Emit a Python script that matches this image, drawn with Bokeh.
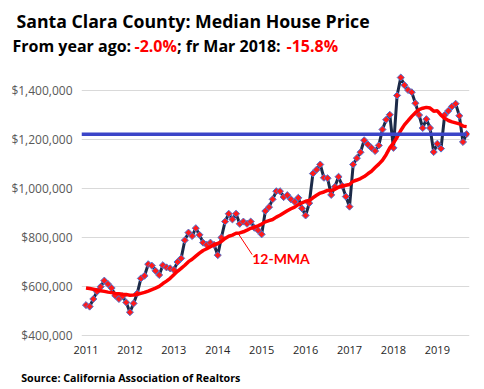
import numpy as np
import pandas as pd
from bokeh.plotting import figure
from bokeh.layouts import column, row
from bokeh.models import Label, FixedTicker, NumeralTickFormatter, Range1d
from bokeh.embed import file_html
from bokeh.resources import INLINE

# ---- data (monthly, Jan 2011 .. Sep 2019) ----
years = ["2011", "2012", "2013", "2014", "2015", "2016", "2017", "2018", "2019"]
price = [
    524000, 518000, 549000, 579000, 599000, 624000, 610000, 594000, 563000, 549000, 560000, 535000,   # 2011
    495000, 531000, 572000, 633000, 644000, 691000, 685000, 664000, 647000, 687000, 678000, 674000,   # 2012
    668000, 700000, 715000, 789000, 820000, 806000, 838000, 811000, 779000, 770000, 779000, 770000,   # 2013
    728000, 800000, 865000, 897000, 874000, 897000, 856000, 865000, 856000, 865000, 840000, 830000,   # 2014
    813000, 908000, 924000, 956000, 989000, 989000, 965000, 973000, 956000, 946000, 962000, 919000,   # 2015
    890000, 940000, 1061000, 1077000, 1098000, 1044000, 1042000, 974000, 1007000, 1048000, 1011000, 967000,  # 2016
    926000, 1098000, 1124000, 1148000, 1197000, 1180000, 1166000, 1153000, 1176000, 1241000, 1281000, 1301000,  # 2017
    1166000, 1380000, 1453000, 1422000, 1402000, 1393000, 1348000, 1300000, 1247000, 1283000, 1247000, 1149000,  # 2018
    1183000, 1163000, 1300000, 1317000, 1335000, 1346000, 1297000, 1190000, 1222000,  # 2019
]
# 12-MMA for Jan-Nov 2011 (depends on 2010 data)
mma_2011_head = [594000, 592000, 589000, 586000, 583000, 580000, 577000, 575000, 572000, 570000, 568000]

title_text = "Santa Clara County: Median House Price"
sub_parts = [("From year ago: ", "black"), ("-2.0%", "#ff0000"),
             ("; fr Mar 2018: ", "black"), ("-15.8%", "#ff0000")]
source_text = "Source: California Association of Realtors"
mma_label = "12-MMA"
y_ticks = [400000, 600000, 800000, 1000000, 1200000, 1400000]

x = np.arange(len(price))
s = pd.Series(price, dtype=float)
mma = s.rolling(12).mean().to_numpy()
mma[:len(mma_2011_head)] = mma_2011_head
latest = price[-1]

FONT = "Open Sans"
W = 484


def text_panel(h):
    f = figure(width=W, height=h, x_range=Range1d(0, W), y_range=Range1d(h, 0),
               x_axis_type=None, y_axis_type=None, output_backend="svg",
               toolbar_location=None, min_border=0)
    f.outline_line_color = None
    f.grid.visible = False
    return f


# ---- header ----
top = text_panel(60)
top.add_layout(Label(x=16, y=20.7, text=title_text, text_font=FONT, text_font_style="bold",
                     text_font_size="17.7px", text_color="black", text_baseline="alphabetic"))
sub_x = [12, 134, 176.5, 286]
for (t, c), sx in zip(sub_parts, sub_x):
    top.add_layout(Label(x=sx, y=45, text=t, text_font=FONT, text_font_style="bold",
                         text_font_size="16px", text_color=c, text_baseline="alphabetic"))

# ---- main chart ----
p = figure(width=W, height=308,
           x_range=Range1d(-1.23, 104.78), y_range=Range1d(395918, 1514418),
           output_backend="svg", toolbar_location=None,
           min_border_left=81, min_border_right=15, min_border_top=2, min_border_bottom=32)
p.outline_line_color = None
p.xgrid.visible = False
p.ygrid.grid_line_color = "#d9d9d9"
p.ygrid.grid_line_width = 1

p.yaxis.ticker = FixedTicker(ticks=y_ticks)
p.yaxis.formatter = NumeralTickFormatter(format="$0,0")
p.yaxis.axis_line_color = None
p.yaxis.major_tick_line_color = None
p.yaxis.minor_tick_line_color = None
p.yaxis.major_tick_out = 0
p.yaxis.major_label_standoff = 9
p.yaxis.major_label_text_font = "Open Sans"
p.yaxis.major_label_text_font_size = "12px"
p.yaxis.major_label_text_color = "#595959"

xt = [12 * i for i in range(len(years))]
p.xaxis.ticker = FixedTicker(ticks=xt)
p.xaxis.major_label_overrides = {t: y for t, y in zip(xt, years)}
p.xaxis.axis_line_color = None
p.xaxis.major_tick_line_color = None
p.xaxis.minor_tick_line_color = None
p.xaxis.major_tick_out = 0
p.xaxis.major_label_standoff = 9
p.xaxis.major_label_text_font = "Open Sans"
p.xaxis.major_label_text_font_size = "11px"
p.xaxis.major_label_text_color = "#262626"

# price line + markers
p.line(x, price, line_color="#1c2a48", line_width=3)
p.scatter(x, price, marker="square", angle=np.pi / 4, size=5,
          fill_color="#ff1a1a", line_color="#4f74d0", line_width=1)
# 12-month moving average
p.line(x, mma, line_color="#ff0000", line_width=3.5)
# latest-value reference line
p.line([p.x_range.start, x[-1]], [latest, latest], line_color="#3b45c8", line_width=3.5)

# 12-MMA annotation with leader
ax = 41.5
ay = float(np.interp(ax, x, mma))
p.segment(x0=[ax], y0=[ay], x1=[ax + 3.9], y1=[ay - 88000], line_color="#ff0000", line_width=1)
p.add_layout(Label(x=ax + 3.9, y=ay - 104000, text=mma_label, text_font="Lato", text_font_style="bold",
                   text_font_size="14px", text_color="#ff0000", text_baseline="middle", text_align="left"))

# ---- footer ----
bottom = text_panel(20)
bottom.add_layout(Label(x=20.7, y=9, text=source_text, text_font=FONT, text_font_style="bold",
                        text_font_size="10.7px", text_color="black", text_baseline="alphabetic"))

layout = column(row(top), p, row(bottom), spacing=0)
open("out.html", "w").write(file_html(layout, INLINE))
